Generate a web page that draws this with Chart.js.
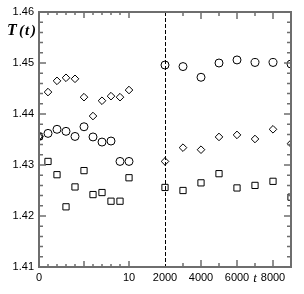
<!DOCTYPE html>
<html>
<head>
<meta charset="utf-8">
<script src="https://cdn.jsdelivr.net/npm/chart.js@4/dist/chart.umd.min.js"></script>
<style>
  html, body { margin: 0; padding: 0; background: #fff; }
</style>
</head>
<body>
<canvas id="chart" width="304" height="294"></canvas>
<script>
// early times (t = 0..10) and late times (t = 2000..9000)
const tEarly = [0, 1, 2, 3, 4, 5, 6, 7, 8, 9, 10];
const tLate = [2000, 3000, 4000, 5000, 6000, 7000, 8000, 9000];

const circleEarly = [1.4356, 1.4362, 1.4370, 1.4366, 1.4356, 1.4375, 1.4355, 1.4345, 1.4347, 1.4307, 1.4307];
const circleLate = [1.4496, 1.4493, 1.4472, 1.4500, 1.4506, 1.4501, 1.4501, 1.4498];

const diamondEarly = [1.4356, 1.4443, 1.4465, 1.4471, 1.4469, 1.4433, 1.4396, 1.4426, 1.4435, 1.4433, 1.4447];
const diamondLate = [1.4307, 1.4334, 1.4330, 1.4355, 1.4359, 1.4351, 1.4370, 1.4342];

const squareEarly = [1.4356, 1.4307, 1.4281, 1.4218, 1.4257, 1.4289, 1.4242, 1.4246, 1.4229, 1.4229, 1.4275];
const squareLate = [1.4256, 1.4250, 1.4265, 1.4283, 1.4255, 1.4260, 1.4268, 1.4237];

const xLabels = {0: '0', 10: '10', 2000: '2000', 4000: '4000', 6000: '6000', 8000: '8000'};
const yLabels = [1.41, 1.42, 1.43, 1.44, 1.45, 1.46];

// broken axis: early part linear in t, late part compressed (1000 -> 2 units)
const BREAK = 14;
function xPos(t) {
  return t >= 2000 ? BREAK + (t - 2000) / 500 : t;
}
function series(early, late) {
  return tEarly.map((t, i) => ({x: xPos(t), y: early[i]}))
    .concat(tLate.map((t, i) => ({x: xPos(t), y: late[i]})));
}

const AXIS = '#6e6e6e';

const frame = {
  id: 'frame',
  afterDatasetsDraw(chart) {
    const {ctx, chartArea: a, scales} = chart;
    const xs = scales.x, ys = scales.y;
    ctx.save();

    // dashed break line
    const xb = Math.round(xs.getPixelForValue(BREAK)) + 0.5;
    ctx.strokeStyle = '#000';
    ctx.lineWidth = 1;
    ctx.setLineDash([4, 2]);
    ctx.beginPath();
    ctx.moveTo(xb, a.top);
    ctx.lineTo(xb, a.bottom);
    ctx.stroke();
    ctx.setLineDash([]);

    ctx.strokeStyle = AXIS;
    ctx.lineWidth = 2;
    ctx.strokeRect(a.left, a.top, a.right - a.left, a.bottom - a.top);

    // x ticks, inward on bottom and top
    const xt = [];
    tEarly.forEach(t => xt.push([xPos(t), t % 5 === 0 ? 6 : 3]));
    for (let t = 3000; t <= 8000; t += 1000) xt.push([xPos(t), t % 2000 === 0 ? 7 : 4]);
    ctx.lineWidth = 1.5;
    ctx.beginPath();
    xt.forEach(([v, len]) => {
      const px = xs.getPixelForValue(v);
      ctx.moveTo(px, a.bottom);
      ctx.lineTo(px, a.bottom - len);
      ctx.moveTo(px, a.top);
      ctx.lineTo(px, a.top + len);
    });
    // y ticks, inward on left and right
    for (let k = 0; k <= 25; k++) {
      const v = 1.41 + k * 0.002;
      const len = k % 5 === 0 ? 7 : 4;
      const py = ys.getPixelForValue(v);
      ctx.moveTo(a.left, py);
      ctx.lineTo(a.left + len, py);
      ctx.moveTo(a.right, py);
      ctx.lineTo(a.right - len, py);
    }
    ctx.stroke();

    // y axis title
    ctx.fillStyle = '#000';
    ctx.textBaseline = 'alphabetic';
    ctx.font = 'italic bold 16px "Liberation Serif"';
    ctx.fillText('T', 7, 35);
    ctx.font = 'italic bold 15px "Liberation Serif"';
    ctx.fillText('(', 19, 35);
    ctx.fillText('t', 25, 35);
    ctx.fillText(')', 31, 35);
    ctx.restore();
  }
};

const pt = {borderColor: '#000', backgroundColor: 'rgba(0,0,0,0)', borderWidth: 1, showLine: false};

new Chart(document.getElementById('chart'), {
  type: 'scatter',
  data: {
    datasets: [
      Object.assign({label: 'circles', data: series(circleEarly, circleLate), pointStyle: 'circle', pointRadius: 4}, pt),
      Object.assign({label: 'diamonds', data: series(diamondEarly, diamondLate), pointStyle: 'rectRot', pointRadius: 3.8}, pt),
      Object.assign({label: 'squares', data: series(squareEarly, squareLate), pointStyle: 'rect', pointRadius: 4.4}, pt)
    ]
  },
  options: {
    responsive: false,
    devicePixelRatio: 1,
    animation: false,
    layout: {padding: {top: 12, right: 13, left: 0, bottom: 0}},
    plugins: {legend: {display: false}, tooltip: {enabled: false}},
    scales: {
      x: {
        type: 'linear',
        min: 0,
        max: 28,
        border: {display: false},
        grid: {display: false, drawTicks: false},
        afterBuildTicks(scale) {
          const vals = Object.keys(xLabels).map(Number).map(xPos);
          vals.push(xPos(7000));
          scale.ticks = vals.sort((a, b) => a - b).map(v => ({value: v}));
        },
        afterFit(scale) { scale.height = 27; },
        ticks: {
          padding: 4,
          maxRotation: 0,
          autoSkip: false,
          color: '#000',
          font: (c) => c.tick && c.tick.value === xPos(7000)
            ? {family: '"Liberation Serif"', size: 13, style: 'italic'}
            : {family: '"Liberation Sans"', size: 11},
          callback(v) {
            if (v === xPos(7000)) return 't';
            const t = v >= BREAK ? 2000 + (v - BREAK) * 500 : v;
            return xLabels[t] || '';
          }
        }
      },
      y: {
        min: 1.41,
        max: 1.46,
        border: {display: false},
        grid: {display: false, drawTicks: false},
        afterBuildTicks(scale) {
          scale.ticks = yLabels.map(v => ({value: v}));
        },
        afterFit(scale) { scale.width = 39; },
        ticks: {
          padding: 5,
          color: '#000',
          font: {family: '"Liberation Sans"', size: 11},
          callback: v => v.toFixed(2)
        }
      }
    }
  },
  plugins: [frame]
});
</script>
</body>
</html>
